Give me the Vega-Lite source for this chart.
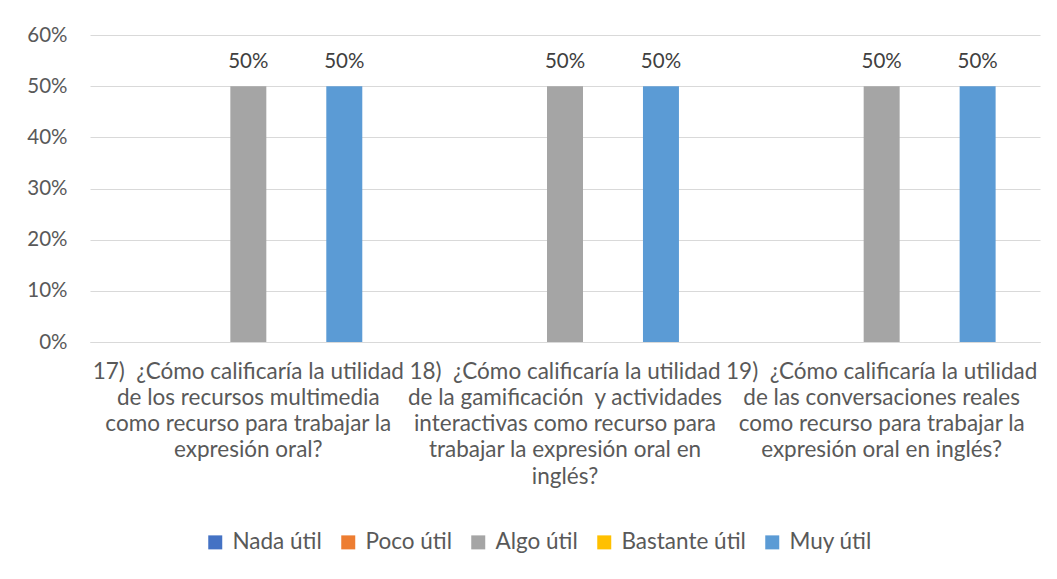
{
  "$schema": "https://vega.github.io/schema/vega-lite/v6.json",
  "width": 950,
  "height": 307,
  "autosize": {"type": "none"},
  "padding": {"left": 90, "top": 35, "right": 17, "bottom": 237},
  "background": "white",
  "config": {"font": "Lato", "view": {"stroke": null}},
  "data": {
    "values": [
      {"pregunta": "17)\u00a0 ¿Cómo calificaría la utilidad|de los recursos multimedia|como recurso para trabajar la|expresión oral?", "respuesta": "Nada útil", "valor": 0},
      {"pregunta": "17)\u00a0 ¿Cómo calificaría la utilidad|de los recursos multimedia|como recurso para trabajar la|expresión oral?", "respuesta": "Poco útil", "valor": 0},
      {"pregunta": "17)\u00a0 ¿Cómo calificaría la utilidad|de los recursos multimedia|como recurso para trabajar la|expresión oral?", "respuesta": "Algo útil", "valor": 0.5},
      {"pregunta": "17)\u00a0 ¿Cómo calificaría la utilidad|de los recursos multimedia|como recurso para trabajar la|expresión oral?", "respuesta": "Bastante útil", "valor": 0},
      {"pregunta": "17)\u00a0 ¿Cómo calificaría la utilidad|de los recursos multimedia|como recurso para trabajar la|expresión oral?", "respuesta": "Muy útil", "valor": 0.5},
      {"pregunta": "18)\u00a0 ¿Cómo calificaría la utilidad|de la gamificación\u00a0 y actividades|interactivas como recurso para|trabajar la expresión oral en|inglés?", "respuesta": "Nada útil", "valor": 0},
      {"pregunta": "18)\u00a0 ¿Cómo calificaría la utilidad|de la gamificación\u00a0 y actividades|interactivas como recurso para|trabajar la expresión oral en|inglés?", "respuesta": "Poco útil", "valor": 0},
      {"pregunta": "18)\u00a0 ¿Cómo calificaría la utilidad|de la gamificación\u00a0 y actividades|interactivas como recurso para|trabajar la expresión oral en|inglés?", "respuesta": "Algo útil", "valor": 0.5},
      {"pregunta": "18)\u00a0 ¿Cómo calificaría la utilidad|de la gamificación\u00a0 y actividades|interactivas como recurso para|trabajar la expresión oral en|inglés?", "respuesta": "Bastante útil", "valor": 0},
      {"pregunta": "18)\u00a0 ¿Cómo calificaría la utilidad|de la gamificación\u00a0 y actividades|interactivas como recurso para|trabajar la expresión oral en|inglés?", "respuesta": "Muy útil", "valor": 0.5},
      {"pregunta": "19)\u00a0 ¿Cómo calificaría la utilidad|de las conversaciones reales|como recurso para trabajar la|expresión oral en inglés?", "respuesta": "Nada útil", "valor": 0},
      {"pregunta": "19)\u00a0 ¿Cómo calificaría la utilidad|de las conversaciones reales|como recurso para trabajar la|expresión oral en inglés?", "respuesta": "Poco útil", "valor": 0},
      {"pregunta": "19)\u00a0 ¿Cómo calificaría la utilidad|de las conversaciones reales|como recurso para trabajar la|expresión oral en inglés?", "respuesta": "Algo útil", "valor": 0.5},
      {"pregunta": "19)\u00a0 ¿Cómo calificaría la utilidad|de las conversaciones reales|como recurso para trabajar la|expresión oral en inglés?", "respuesta": "Bastante útil", "valor": 0},
      {"pregunta": "19)\u00a0 ¿Cómo calificaría la utilidad|de las conversaciones reales|como recurso para trabajar la|expresión oral en inglés?", "respuesta": "Muy útil", "valor": 0.5}
    ]
  },
  "encoding": {
    "x": {
      "field": "pregunta",
      "type": "nominal",
      "sort": null,
      "title": null,
      "scale": {"paddingInner": 0, "paddingOuter": 0},
      "axis": {
        "labelExpr": "split(datum.value, '|')",
        "labelAngle": 0,
        "labelFontSize": 22.5,
        "labelColor": "#595959",
        "labelLineHeight": 26.3,
        "labelPadding": 18,
        "labelLimit": 400,
        "labelBaseline": "top",
        "ticks": false,
        "domainColor": "#d9d9d9",
        "domainWidth": 1
      }
    },
    "xOffset": {
      "field": "respuesta",
      "type": "nominal",
      "sort": ["Nada útil", "Poco útil", "Algo útil", "Bastante útil", "Muy útil"],
      "scale": {"paddingInner": 0.25, "paddingOuter": 0.925}
    },
    "y": {
      "field": "valor",
      "type": "quantitative",
      "title": null,
      "scale": {"domain": [0, 0.6]},
      "axis": {
        "format": ".0%",
        "values": [0, 0.1, 0.2, 0.3, 0.4, 0.5, 0.6],
        "labelFontSize": 20.5,
        "labelColor": "#595959",
        "labelPadding": 23,
        "ticks": false,
        "domain": false,
        "gridColor": "#d9d9d9",
        "gridWidth": 1
      }
    }
  },
  "layer": [
    {
      "mark": {"type": "bar"},
      "encoding": {
        "color": {
          "field": "respuesta",
          "type": "nominal",
          "sort": ["Nada útil", "Poco útil", "Algo útil", "Bastante útil", "Muy útil"],
          "scale": {
            "domain": ["Nada útil", "Poco útil", "Algo útil", "Bastante útil", "Muy útil"],
            "range": ["#4472C4", "#ED7D31", "#A5A5A5", "#FFC000", "#5B9BD5"]
          },
          "legend": {
            "title": null,
            "orient": "none",
            "direction": "horizontal",
            "legendX": 114,
            "legendY": 496,
            "symbolType": "square",
            "symbolSize": 196,
            "symbolStrokeWidth": 0,
            "labelFontSize": 22.5,
            "labelColor": "#595959",
            "columnPadding": 15,
            "labelOffset": 6
          }
        }
      }
    },
    {
      "transform": [{"filter": "datum.valor > 0"}],
      "mark": {"type": "text", "baseline": "bottom", "dy": -14, "fontSize": 20.5, "color": "#404040"},
      "encoding": {
        "text": {"field": "valor", "type": "quantitative", "format": ".0%"}
      }
    }
  ]
}
